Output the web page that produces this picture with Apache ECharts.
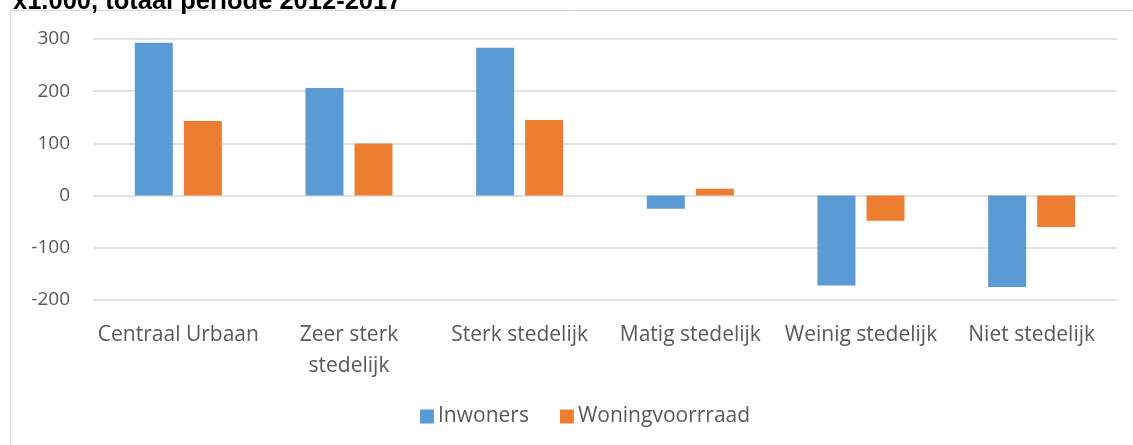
<!DOCTYPE html>
<html>
<head>
<meta charset="utf-8">
<script src="https://cdn.jsdelivr.net/npm/echarts@6/dist/echarts.min.js"></script>
<style>
  html, body { margin: 0; padding: 0; background: #fff; }
  #main { width: 1133px; height: 445px; }
</style>
</head>
<body>
<div id="main"></div>
<script>
// categorieen en waarden (x1.000)
var categories = ['Centraal Urbaan', 'Zeer sterk\nstedelijk', 'Sterk stedelijk', 'Matig stedelijk', 'Weinig stedelijk', 'Niet stedelijk'];
var inwoners = [293, 206, 283, -25, -172, -175];
var woningvoorraad = [143, 100, 145, 13, -48, -60];
var yTicks = { min: -200, max: 300, interval: 100 };

var myChart = echarts.init(document.getElementById('main'));

var font = '"Open Sans", "Noto Sans", sans-serif';

option = {
    animation: false,
    backgroundColor: '#fff',
    title: {
        text: 'x1.000, totaal periode 2012-2017',
        left: 8,
        top: -16,
        textStyle: { fontFamily: '"Liberation Sans", Arial, sans-serif', fontWeight: 'bold', fontSize: 25.5, color: '#000' }
    },
    graphic: [{
        type: 'rect',
        shape: { x: 10.5, y: 10.5, width: 1140, height: 450 },
        style: { fill: 'none', stroke: '#d9d9d9', lineWidth: 1 },
        silent: true
    }],
    legend: {
        data: ['Inwoners', 'Woningvoorrraad'],
        bottom: 13,
        left: 415,
        itemWidth: 14,
        itemHeight: 14,
        itemGap: 31,
        icon: 'rect',
        textStyle: { fontFamily: font, fontSize: 21, color: '#595959', padding: [0, 0, 0, -1] }
    },
    grid: {
        left: 93,
        right: 16,
        top: 39,
        bottom: 145
    },
    xAxis: {
        type: 'category',
        data: categories,
        axisLine: { show: false },
        axisTick: { show: false },
        axisLabel: {
            margin: 20,
            fontFamily: font,
            fontSize: 21,
            color: '#595959',
            lineHeight: 31,
            interval: 0
        }
    },
    yAxis: {
        type: 'value',
        min: yTicks.min,
        max: yTicks.max,
        interval: yTicks.interval,
        axisLine: { show: false },
        axisTick: { show: false },
        axisLabel: {
            margin: 23,
            fontFamily: font,
            fontSize: 19,
            color: '#595959'
        },
        splitLine: { lineStyle: { color: '#d9d9d9', width: 1.5 } }
    },
    series: [
        {
            name: 'Inwoners',
            type: 'bar',
            data: inwoners,
            barWidth: 38,
            barGap: '29%',
            itemStyle: { color: '#5b9bd5' }
        },
        {
            name: 'Woningvoorrraad',
            type: 'bar',
            data: woningvoorraad,
            barWidth: 38,
            itemStyle: { color: '#ed7d31' }
        }
    ]
};

myChart.setOption(option);
</script>
</body>
</html>
